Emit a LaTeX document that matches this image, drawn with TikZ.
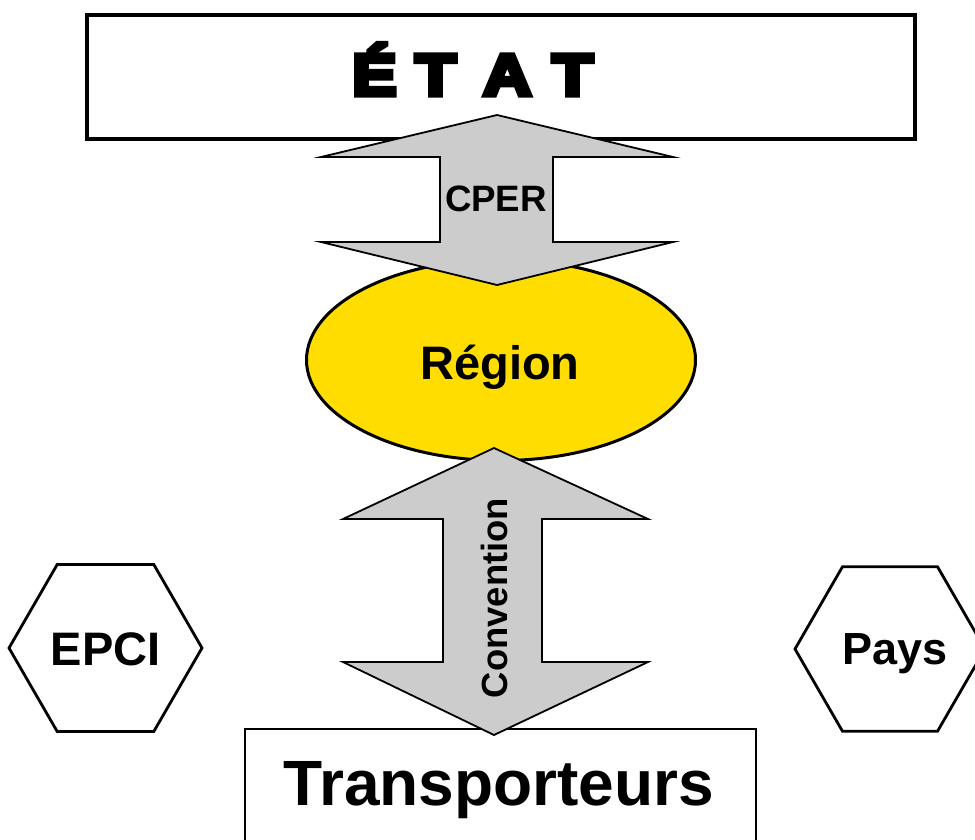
\documentclass[tikz,border=0pt]{standalone}
\usepackage{fontspec}
\setmainfont{Liberation Sans}
\newfontfamily\etatfont{Liberation Sans}[BoldFeatures={FakeBold=9, FakeStretch=1.15}]
\usetikzlibrary{shapes.geometric}
\definecolor{regionyellow}{RGB}{255,221,0}
\definecolor{arrowgrey}{RGB}{204,204,204}
\tikzset{
  box/.style={draw=black, fill=white, inner sep=0pt},
  blockarrow/.style={draw=black, fill=arrowgrey, line width=1.8pt, line join=miter},
  hexa/.style={draw=black, fill=white, regular polygon, regular polygon sides=6, line width=2.8pt, inner sep=0pt},
  lbl/.style={font=\bfseries, inner sep=0pt, text depth=0pt},
}
\begin{document}
\begin{tikzpicture}[x=1pt,y=-1pt]
\useasboundingbox (0,0) rectangle (975,839);
% boxes
\node[box, line width=4pt, minimum width=828pt, minimum height=124pt] (etat) at (501,77) {};
\node[lbl, anchor=base west] (etattext) at (352,95) {\etatfont\bfseries\fontsize{58}{64}\selectfont
  \makebox[63pt][l]{É}\makebox[68pt][l]{T}\makebox[69pt][l]{A}T};
\node[draw=black, ellipse, fill=regionyellow, line width=3pt, minimum width=389pt, minimum height=201pt, inner sep=0pt] (region) at (501,360) {};
\node[lbl, anchor=base] (regiontext) at (500,379) {\fontsize{47}{52}\selectfont Région};
\draw[box, line width=2pt] (245,729) coordinate (tl) rectangle (756,860) coordinate (br);
\node[lbl, anchor=base] (transp) at (499,805) {\fontsize{64}{70}\selectfont Transporteurs};
% hexagons
\node[hexa, minimum size=193pt] (epci) at (105.5,648) {};
\node[lbl, anchor=base] (epcitext) at (105.5,665) {\fontsize{47}{52}\selectfont EPCI};
\node[hexa, minimum size=190pt] (pays) at (890,649) {};
\node[lbl, anchor=base] (paystext) at (895,664) {\fontsize{45}{50}\selectfont Pays};
% CPER arrow
\draw[blockarrow] (497,115) -- (673,157) -- (553,157) -- (553,242) -- (673,242) -- (497,285)
   -- (321,242) -- (440,242) -- (440,157) -- (321,157) -- cycle;
\node[lbl, anchor=base] (cper) at (496,211) {\fontsize{36.7}{40}\selectfont CPER};
% Convention arrow
\draw[blockarrow] (494,448) -- (648,519) -- (542,519) -- (542,662) -- (648,662) -- (494,735)
   -- (343,662) -- (443,662) -- (443,519) -- (343,519) -- cycle;
\node[lbl, anchor=base, rotate=90] (conv) at (507,598) {\fontsize{36.4}{40}\selectfont Convention};
\end{tikzpicture}
\end{document}
